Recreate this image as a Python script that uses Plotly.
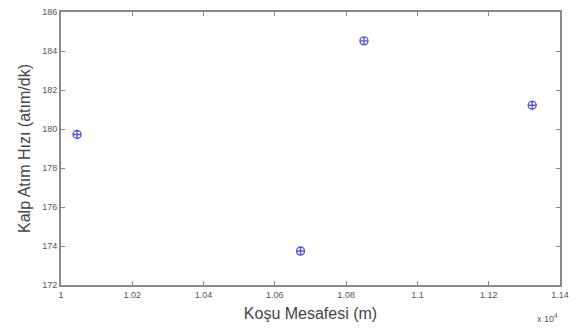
import plotly.graph_objects as go

# Data (x in units of 10^4 m)
kosu_mesafesi = [1.0045, 1.0672, 1.0850, 1.1322]
kalp_atim = [179.72, 173.74, 184.52, 181.22]

x_ticks = [1, 1.02, 1.04, 1.06, 1.08, 1.10, 1.12, 1.14]
x_tick_text = ["1", "1.02", "1.04", "1.06", "1.08", "1.1", "1.12", "1.14"]
y_ticks = [172, 174, 176, 178, 180, 182, 184, 186]

FONT = "Liberation Sans, Arial"

fig = go.Figure()
fig.add_trace(go.Scatter(
    x=kosu_mesafesi, y=kalp_atim, mode="markers",
    marker=dict(symbol="circle-cross-open", size=8, color="#5a5acd",
                line=dict(width=1.4, color="#5a5acd")),
    showlegend=False,
))

axis_common = dict(
    showline=True, linecolor="#8a8a8a", linewidth=2, mirror="ticks",
    ticks="inside", ticklen=4, tickcolor="#8a8a8a", showgrid=False,
    zeroline=False, automargin=False,
    tickfont=dict(family=FONT, size=9, color="#555"),
)

fig.update_layout(
    width=579, height=329,
    margin=dict(l=61, r=19, t=12, b=44),
    paper_bgcolor="white", plot_bgcolor="white",
    xaxis=dict(range=[1, 1.14], tickvals=x_ticks, ticktext=x_tick_text,
               title=dict(text="Koşu Mesafesi (m)", standoff=9,
                          font=dict(family=FONT, size=16, color="#444")),
               **axis_common),
    yaxis=dict(range=[172, 186], tickvals=y_ticks,
               title=dict(text="Kalp Atım Hızı (atım/dk)", standoff=8,
                          font=dict(family=FONT, size=16, color="#444")),
               **axis_common),
    annotations=[dict(text="x 10<sup>4</sup>", x=1.14, y=0, xref="x", yref="paper",
                      xanchor="right", yanchor="middle", yshift=-33, showarrow=False,
                      font=dict(family=FONT, size=9, color="#555"))],
)

fig.write_html("out.html", config={"displayModeBar": False},
               post_script="document.body.style.margin='0';")
